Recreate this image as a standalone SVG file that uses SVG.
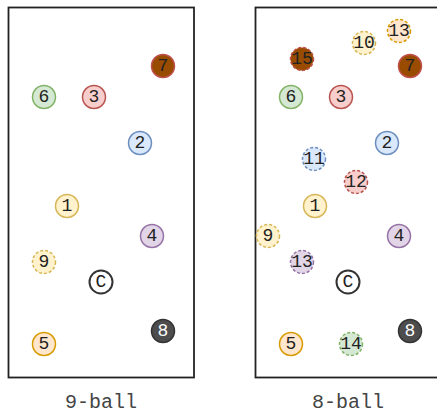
<svg xmlns="http://www.w3.org/2000/svg" width="437" height="415" viewBox="0 0 437 415">
  <style>
    .table { fill: #ffffff; stroke: #222222; stroke-width: 1.8; }
    .ball circle { stroke-width: 1.5; }
    .ball text { font-family: "Liberation Mono", "DejaVu Sans Mono", monospace; font-size: 18px; text-anchor: middle; dominant-baseline: central; fill: #222222; }
    .stripe circle { stroke-dasharray: 3 2; }
    .y circle { fill: #fff2cc; stroke: #d6b656; }
    .b circle { fill: #dae8fc; stroke: #6c8ebf; }
    .r circle { fill: #f8cecc; stroke: #b85450; }
    .p circle { fill: #e1d5e7; stroke: #9673a6; }
    .o circle { fill: #ffe6cc; stroke: #d79b00; }
    .g circle { fill: #d5e8d4; stroke: #82b366; }
    .m circle { fill: #994c00; stroke: #c0504d; }
    .k circle { fill: #4d4d4d; stroke: #333333; }
    .k text { fill: #ffffff; }
    .cue circle { fill: #ffffff; stroke: #333333; stroke-width: 2; }
    .caption { font-family: "Liberation Mono", "DejaVu Sans Mono", monospace; font-size: 20px; fill: #444444; text-anchor: middle; }
  </style>

  <!-- 9-ball rack -->
  <g id="table-9ball">
    <rect class="table" x="8.5" y="7.5" width="185.5" height="370"/>
  </g>
  <g id="n9-7" class="ball m"><circle cx="163" cy="66" r="11.5"/><text x="163" y="66">7</text></g>
  <g id="n9-6" class="ball g"><circle cx="44" cy="97" r="11.5"/><text x="44" y="97">6</text></g>
  <g id="n9-3" class="ball r"><circle cx="94" cy="97" r="11.5"/><text x="94" y="97">3</text></g>
  <g id="n9-2" class="ball b"><circle cx="140" cy="143" r="11.5"/><text x="140" y="143">2</text></g>
  <g id="n9-1" class="ball y"><circle cx="67" cy="206" r="11.5"/><text x="67" y="206">1</text></g>
  <g id="n9-4" class="ball p"><circle cx="152" cy="236" r="11.5"/><text x="152" y="236">4</text></g>
  <g id="n9-9" class="ball y stripe"><circle cx="44" cy="262" r="11.5"/><text x="44" y="262">9</text></g>
  <g id="n9-cue" class="ball cue"><circle cx="101" cy="282" r="11.5"/><text x="101" y="282">C</text></g>
  <g id="n9-5" class="ball o"><circle cx="44" cy="344" r="11.5"/><text x="44" y="344">5</text></g>
  <g id="n9-8" class="ball k"><circle cx="163" cy="331" r="11.5"/><text x="163" y="331">8</text></g>
  <text class="caption" x="101" y="408">9-ball</text>

  <!-- 8-ball rack -->
  <g id="table-8ball">
    <rect class="table" x="255.5" y="7.5" width="190" height="370"/>
  </g>
  <g id="n8-15" class="ball m stripe"><circle cx="302" cy="59" r="11.5"/><text x="302" y="59">15</text></g>
  <g id="n8-10" class="ball y stripe"><circle cx="364" cy="43" r="11.5"/><text x="364" y="43">10</text></g>
  <g id="n8-13a" class="ball o stripe"><circle cx="399" cy="31" r="11.5"/><text x="399" y="31">13</text></g>
  <g id="n8-7" class="ball m"><circle cx="410" cy="66" r="11.5"/><text x="410" y="66">7</text></g>
  <g id="n8-6" class="ball g"><circle cx="291" cy="97" r="11.5"/><text x="291" y="97">6</text></g>
  <g id="n8-3" class="ball r"><circle cx="341" cy="97" r="11.5"/><text x="341" y="97">3</text></g>
  <g id="n8-2" class="ball b"><circle cx="387" cy="143" r="11.5"/><text x="387" y="143">2</text></g>
  <g id="n8-11" class="ball b stripe"><circle cx="314" cy="159" r="11.5"/><text x="314" y="159">11</text></g>
  <g id="n8-12" class="ball r stripe"><circle cx="356" cy="182" r="11.5"/><text x="356" y="182">12</text></g>
  <g id="n8-1" class="ball y"><circle cx="315" cy="206" r="11.5"/><text x="315" y="206">1</text></g>
  <g id="n8-9" class="ball y stripe"><circle cx="268" cy="236" r="11.5"/><text x="268" y="236">9</text></g>
  <g id="n8-4" class="ball p"><circle cx="399" cy="236" r="11.5"/><text x="399" y="236">4</text></g>
  <g id="n8-13b" class="ball p stripe"><circle cx="302" cy="262" r="11.5"/><text x="302" y="262">13</text></g>
  <g id="n8-cue" class="ball cue"><circle cx="348" cy="282" r="11.5"/><text x="348" y="282">C</text></g>
  <g id="n8-5" class="ball o"><circle cx="291" cy="344" r="11.5"/><text x="291" y="344">5</text></g>
  <g id="n8-14" class="ball g stripe"><circle cx="351" cy="344" r="11.5"/><text x="351" y="344">14</text></g>
  <g id="n8-8" class="ball k"><circle cx="410" cy="331" r="11.5"/><text x="410" y="331">8</text></g>
  <text class="caption" x="348" y="408">8-ball</text>

  <g id="connectors"/>
</svg>
